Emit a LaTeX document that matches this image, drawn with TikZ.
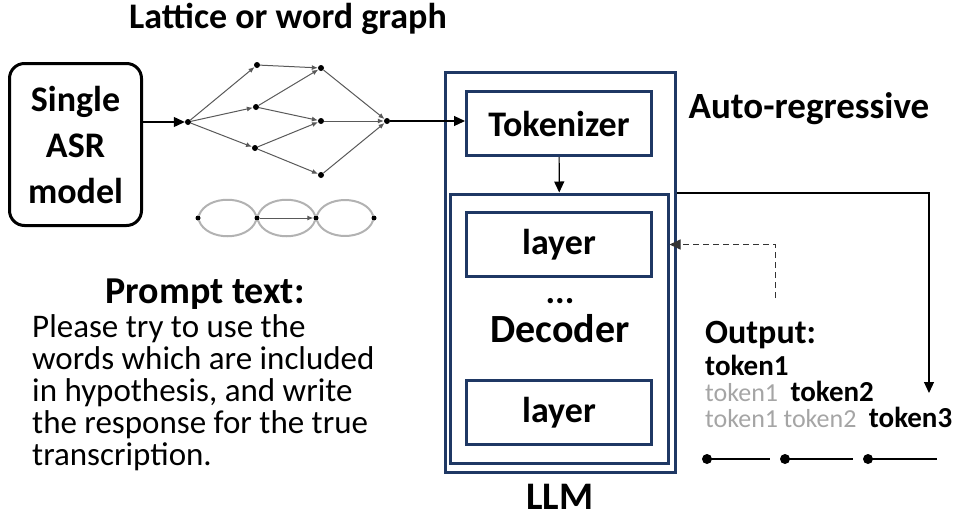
\documentclass[tikz,border=0pt]{standalone}
\usepackage{fontspec}
\setmainfont{Carlito}
\usetikzlibrary{arrows.meta,positioning}
\definecolor{navy}{RGB}{31,56,100}
\definecolor{tokgray}{RGB}{165,165,165}
\tikzstyle{navybox} = [draw=navy,line width=3pt,minimum width=185pt,minimum height=64pt,font=\fontsize{36}{40}\selectfont\bfseries]
\tikzstyle{asrbox} = [draw,line width=3pt,rounded corners=15pt,minimum width=132pt,minimum height=162pt,align=center,
                      font=\fontsize{36}{46}\selectfont\bfseries]
\tikzstyle{dot} = [circle,fill,inner sep=0,minimum size=6pt]
\tikzstyle{edge} = [-{Latex[length=6pt,width=5pt]},draw=black!65,line width=1pt]
\tikzstyle{conn} = [-{Triangle[length=11pt,width=10pt]},line width=1.2pt]
\tikzstyle{label} = [anchor=base,inner sep=0,font=\fontsize{36}{40}\selectfont\bfseries]
\tikzstyle{tok} = [anchor=base west,inner sep=0,font=\fontsize{29}{30}\selectfont\bfseries]
\tikzstyle{oldtok} = [anchor=base west,inner sep=0,text=tokgray,font=\fontsize{26}{30}\selectfont]

\begin{document}
\begin{tikzpicture}[x=1pt,y=-1pt]
      \useasboundingbox (0,0) rectangle (964,517);
      \node[label] (title) at (288,28) {Lattice or word graph};
      % single ASR model
      \node[asrbox] (asr) at (75.5,144.5) {Single\\ASR\\model};
      % lattice
      \node[dot] (l0) at (188,122) {};
      \node[dot] (la) at (257,65) {};
      \node[dot] (lb) at (256,107) {};
      \node[dot] (lc) at (255,148) {};
      \node[dot] (ld) at (321,68) {};
      \node[dot] (le) at (321,121) {};
      \node[dot] (lf) at (321,175) {};
      \node[dot] (lr) at (387,121) {};
      \foreach \a/\b in {l0/la,l0/lb,l0/lc,la/ld,lb/ld,lb/le,lc/le,lc/lf,ld/lr,le/lr,lf/lr}
        \draw[edge] (\a) -- (\b);
      % word graph
      \foreach \i/\x in {1/198,2/257,3/316,4/374}
        \node[dot,minimum size=5pt] (w\i) at (\x,218) {};
      \foreach \a/\b in {w1/w2,w2/w3,w3/w4}{
        \draw[black!30,line width=2pt] (\a) to[bend left=70] (\b);
        \draw[black!30,line width=2pt] (\a) to[bend right=70] (\b);
      }
      \draw[edge] (w2) -- (w3);
      \draw[conn] (asr.east|-l0) -- (l0);
      % prompt
      \node[label,font=\fontsize{38}{40}\selectfont\bfseries] (ptitle) at (205,303) {Prompt text:};
      \node[anchor=north west,align=left,inner sep=0,font=\fontsize{33}{32}\selectfont] (ptext) at (32,314)
        {Please try to use the\\words which are included\\in hypothesis, and write\\the response for the true\\transcription.};
      % LLM
      \node[draw=navy,line width=3pt,minimum width=230pt,minimum height=400pt] (llmbox) at (560,272) {};
      \node[navybox] (tok) at (559,123.5) {Tokenizer};
      \node[draw=navy,line width=3pt,minimum width=217.5pt,minimum height=269pt] (dec) at (559.25,328.5) {};
      \node[navybox] (lay1) at (559,244.5) {layer};
      \node[navybox] (lay2) at (559,412.5) {layer};
      \node[label] (dots) at (560,303) {...};
      \node[label,font=\fontsize{40}{44}\selectfont\bfseries] (decl) at (560,342) {Decoder};
      \node[label,font=\fontsize{39}{44}\selectfont\bfseries] (llm) at (560,509) {LLM};
      \draw[conn] (lr) -- (tok.west|-lr);
      \draw[conn] (tok) -- (dec.north);
      % output
      \node[label,font=\fontsize{37}{40}\selectfont\bfseries] (auto) at (809,118) {Auto-regressive};
      \node[label,anchor=base west,font=\fontsize{34}{40}\selectfont\bfseries] (out) at (705,343) {Output:};
      \node[tok] (t1) at (705,375) {token1};
      \node[oldtok] (t21) at (705,401) {token1};
      \node[tok,right=12pt of t21.base east,anchor=base west] (t22) {token2};
      \node[oldtok] (t31) at (705,427) {token1};
      \node[oldtok,right=5pt of t31.base east,anchor=base west] (t32) {token2};
      \node[tok,right=12pt of t32.base east,anchor=base west] (t33) {token3};
      \coordinate (c1) at (929,193);
      \coordinate (c2) at (775,298);
      \draw[conn] (llmbox.east|-c1) -- (c1) -- (929,393);
      \draw[conn,dash pattern=on 6pt off 4pt,line width=1pt,black!80] (c2) -- (c2|-lay1) -- (dec.east|-lay1);
      \foreach \x/\e in {707/770,785/853,868/937}{
        \node[dot,minimum size=10pt] (d\x) at (\x,459) {};
        \draw[line width=1.5pt] (d\x.center) -- (\e,459);
      }
    \end{tikzpicture}
\end{document}
